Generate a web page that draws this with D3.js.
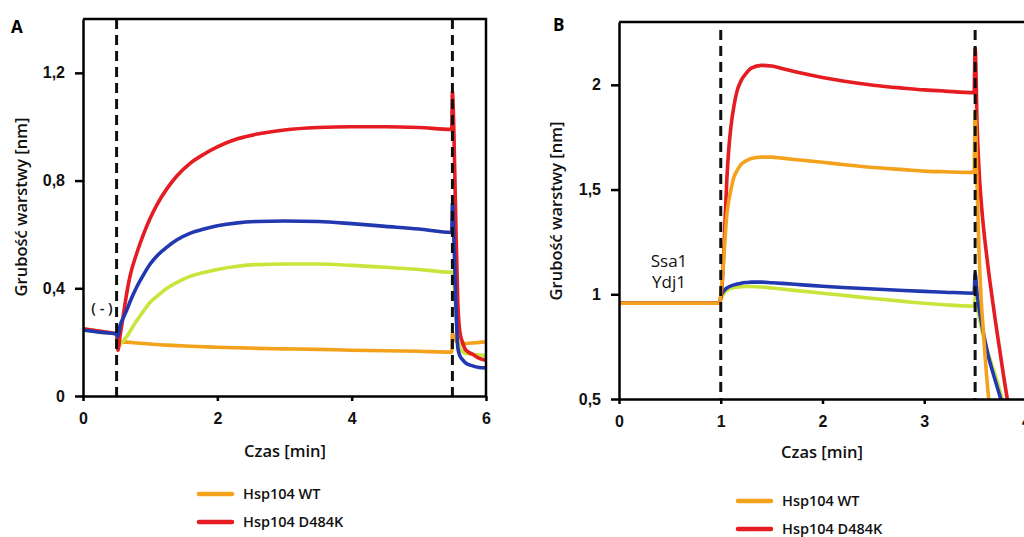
<!DOCTYPE html>
<html>
<head>
<meta charset="utf-8">
<script src="https://cdn.jsdelivr.net/npm/d3@7"></script>
<style>
  body { margin: 0; background: #fff; }
  svg { display: block; font-family: "Open Sans", Lato, sans-serif; }
  .tick text { font-size: 16px; font-weight: 600; fill: #111; }
</style>
</head>
<body>
<svg class="chart" width="1024" height="537"></svg>
<script>
// series colours, legend names
const seriesColors = { wt: "#f4a11c", d484k: "#e51c22", blue: "#2138b0", green: "#c9e43a" }
const legendNames = ["Hsp104 WT", "Hsp104 D484K"]

// ---- panel A data (time in min, thickness in nm)
const timeA = [0, 0.25, 0.5, 0.52, 0.55, 0.6, 0.65, 0.7, 0.8, 0.9, 1.0, 1.1, 1.25, 1.4, 1.6, 1.8, 2.0, 2.3, 2.6, 3.0, 3.5, 4.0, 4.5, 5.0, 5.49, 5.5, 5.52, 5.55, 5.58, 5.61, 5.65, 5.7, 5.8, 5.9, 6.0]
const wtA    = [0.25, 0.24, 0.23, 0.18, 0.2, 0.2, 0.2, 0.199, 0.197, 0.195, 0.193, 0.191, 0.189, 0.187, 0.185, 0.183, 0.181, 0.179, 0.177, 0.175, 0.173, 0.17, 0.168, 0.166, 0.163, 0.237, 0.22, 0.205, 0.198, 0.195, 0.194, 0.195, 0.197, 0.199, 0.201]
const d484kA = [0.25, 0.24, 0.23, 0.17, 0.22, 0.3, 0.38, 0.445, 0.53, 0.6, 0.66, 0.71, 0.77, 0.818, 0.865, 0.898, 0.925, 0.955, 0.973, 0.988, 0.997, 1.0, 1.0, 0.997, 0.99, 1.13, 1.0, 0.65, 0.35, 0.24, 0.2, 0.17, 0.155, 0.14, 0.133]
const blueA  = [0.245, 0.237, 0.23, 0.22, 0.26, 0.29, 0.318, 0.35, 0.405, 0.45, 0.49, 0.52, 0.553, 0.58, 0.605, 0.62, 0.632, 0.643, 0.648, 0.65, 0.648, 0.64, 0.63, 0.62, 0.607, 0.715, 0.6, 0.35, 0.18, 0.15, 0.135, 0.122, 0.112, 0.106, 0.104]
const greenA = [0.245, 0.237, 0.23, 0.18, 0.19, 0.205, 0.22, 0.24, 0.28, 0.315, 0.348, 0.37, 0.4, 0.422, 0.445, 0.459, 0.47, 0.482, 0.488, 0.49, 0.49, 0.485, 0.478, 0.47, 0.46, 0.46, 0.42, 0.32, 0.22, 0.18, 0.165, 0.158, 0.155, 0.152, 0.15]
const xTicksA = [0, 2, 4, 6]
const yTicksA = [0, 0.4, 0.8, 1.2]
const yTickLabelsA = ["0", "0,4", "0,8", "1,2"]
const eventsA = [0.5, 5.5]

// ---- panel B data
const timeB = [0, 0.5, 0.99, 1.0, 1.02, 1.04, 1.06, 1.08, 1.1, 1.13, 1.16, 1.2, 1.25, 1.3, 1.4, 1.5, 1.6, 1.8, 2.0, 2.2, 2.5, 2.8, 3.0, 3.2, 3.49, 3.5, 3.52, 3.54, 3.56, 3.58, 3.6, 3.62, 3.64, 3.66, 3.7, 3.74, 3.78, 3.82, 3.86]
const wtB    = [0.957, 0.957, 0.957, 1.0, 1.1, 1.25, 1.38, 1.45, 1.5, 1.56, 1.59, 1.62, 1.637, 1.648, 1.655, 1.655, 1.65, 1.64, 1.63, 1.62, 1.605, 1.595, 1.588, 1.585, 1.582, 1.876, 1.5, 1.18, 0.97, 0.83, 0.69, 0.57, 0.47, 0.39, 0.28, 0.18, 0.08, 0.0, -0.1]
const d484kB = [0.957, 0.957, 0.957, 0.98, 1.1, 1.32, 1.55, 1.7, 1.8, 1.9, 1.97, 2.02, 2.055, 2.08, 2.093, 2.09, 2.078, 2.055, 2.035, 2.018, 1.998, 1.984, 1.976, 1.97, 1.963, 2.176, 1.8, 1.58, 1.44, 1.33, 1.24, 1.16, 1.08, 1.01, 0.87, 0.74, 0.61, 0.49, 0.39]
const blueB  = [0.957, 0.957, 0.957, 0.99, 1.01, 1.022, 1.03, 1.036, 1.04, 1.045, 1.049, 1.053, 1.056, 1.058, 1.058, 1.055, 1.052, 1.045, 1.038, 1.032, 1.025, 1.018, 1.014, 1.01, 1.005, 1.1, 1.0, 0.93, 0.87, 0.82, 0.77, 0.725, 0.685, 0.65, 0.585, 0.52, 0.45, 0.38, 0.32]
const greenB = [0.957, 0.957, 0.957, 0.975, 0.995, 1.01, 1.018, 1.024, 1.028, 1.032, 1.034, 1.036, 1.037, 1.037, 1.035, 1.03, 1.025, 1.015, 1.005, 0.995, 0.98, 0.966, 0.957, 0.95, 0.943, 0.986, 0.94, 0.89, 0.845, 0.8, 0.765, 0.73, 0.7, 0.67, 0.61, 0.545, 0.475, 0.4, 0.33]
const xTicksB = [0, 1, 2, 3, 4]
const yTicksB = [0.5, 1, 1.5, 2]
const yTickLabelsB = ["0,5", "1", "1,5", "2"]
const eventsB = [1, 3.5]

const svg = d3.select("svg.chart")

// one function draws a whole panel
const drawPanel = function(p) {
    const scaleX = d3.scaleLinear().domain(p.xDomain).range([p.left, p.right])
    const scaleY = d3.scaleLinear().domain(p.yDomain).range([p.bottom, p.top])

    const clipId = "clip-" + p.letter
    svg.append("clipPath").attr("id", clipId)
        .append("rect")
        .attr("x", p.left)
        .attr("y", p.top)
        .attr("width", p.right - p.left)
        .attr("height", p.bottom - p.top)

    // curves
    const line = d3.line()
        .x(d => scaleX(d[0]))
        .y(d => scaleY(d[1]))
        .curve(d3.curveMonotoneX)

    const plot = svg.append("g").attr("clip-path", `url(#${clipId})`)
    p.series.forEach(s => {
        plot.append("path")
            .datum(p.time.map((t, i) => [t, s.values[i]]))
            .attr("d", line)
            .attr("fill", "none")
            .attr("stroke", s.color)
            .attr("stroke-width", 3.6)
            .attr("stroke-linejoin", "round")
    })

    // dashed event lines
    svg.append("g")
        .selectAll("line")
        .data(p.events)
        .enter()
        .append("line")
        .attr("x1", d => scaleX(d))
        .attr("x2", d => scaleX(d))
        .attr("y1", p.dashTop)
        .attr("y2", p.bottom)
        .attr("stroke", "#111")
        .attr("stroke-width", 3)
        .attr("stroke-dasharray", "10,6")

    // frame (top and right)
    svg.append("path")
        .attr("d", `M${p.left},${p.top}H${scaleX(p.xDomain[1])}V${p.bottom}`)
        .attr("fill", "none")
        .attr("stroke", "#000")
        .attr("stroke-width", 2.5)

    // axes
    const axisX = d3.axisBottom(scaleX)
        .tickValues(p.xTicks)
        .tickSizeInner(5)
        .tickSizeOuter(0)
        .tickPadding(12)
        .tickFormat(d => d)
    const axisXGroup = svg.append("g")
        .attr("transform", `translate(0, ${p.bottom})`)
        .call(axisX)
    axisXGroup.select(".domain").attr("stroke-width", 2.5)
    axisXGroup.selectAll(".tick line").attr("stroke-width", 2.5)

    const axisY = d3.axisLeft(scaleY)
        .tickValues(p.yTicks)
        .tickSizeInner(8)
        .tickSizeOuter(0)
        .tickPadding(10)
        .tickFormat((d, i) => p.yTickLabels[i])
    const axisYGroup = svg.append("g")
        .attr("transform", `translate(${p.left}, 0)`)
        .call(axisY)
    axisYGroup.select(".domain").attr("stroke-width", 2.5)
    axisYGroup.selectAll(".tick line").attr("stroke-width", 2.5)

    // titles
    svg.append("text")
        .attr("transform", `translate(${p.yTitleX}, ${p.yTitleY}) rotate(-90)`)
        .attr("text-anchor", "middle")
        .attr("font-size", "16.5px")
        .attr("font-weight", 600)
        .attr("fill", "#111")
        .text("Grubość warstwy [nm]")

    svg.append("text")
        .attr("x", p.xTitleX)
        .attr("y", p.xTitleY)
        .attr("text-anchor", "middle")
        .attr("font-size", "16.5px")
        .attr("font-weight", 600)
        .attr("fill", "#111")
        .text("Czas [min]")

    svg.append("text")
        .attr("x", p.letterX)
        .attr("y", p.letterY)
        .attr("font-size", "17px")
        .attr("font-weight", "bold")
        .text(p.letter)

    // legend (two visible entries)
    const legend = svg.append("g")
        .selectAll("g")
        .data(legendNames)
        .enter()
        .append("g")
        .attr("transform", (d, i) => `translate(${p.legendX}, ${p.legendY + i * 28})`)
    legend.append("line")
        .attr("x1", 0)
        .attr("x2", 33)
        .attr("stroke", (d, i) => i === 0 ? seriesColors.wt : seriesColors.d484k)
        .attr("stroke-width", 4.5)
        .attr("stroke-linecap", "round")
    legend.append("text")
        .attr("x", 44)
        .attr("y", 5)
        .attr("font-size", "14.5px")
        .attr("font-weight", 600)
        .attr("fill", "#111")
        .text(d => d)
}

drawPanel({
    letter: "A", letterX: 11, letterY: 33,
    left: 83, right: 486, top: 19, bottom: 396, dashTop: 19,
    xDomain: [0, 6], yDomain: [0, 1.4],
    xTicks: xTicksA, yTicks: yTicksA, yTickLabels: yTickLabelsA,
    events: eventsA, time: timeA,
    series: [
        { values: wtA, color: seriesColors.wt },
        { values: greenA, color: seriesColors.green },
        { values: d484kA, color: seriesColors.d484k },
        { values: blueA, color: seriesColors.blue }
    ],
    yTitleX: 27, yTitleY: 207, xTitleX: 285, xTitleY: 457,
    legendX: 199, legendY: 494
})

drawPanel({
    letter: "B", letterX: 553, letterY: 31,
    left: 619, right: 1026, top: 22, bottom: 399, dashTop: 30,
    xDomain: [0, 4], yDomain: [0.5, 2.3],
    xTicks: xTicksB, yTicks: yTicksB, yTickLabels: yTickLabelsB,
    events: eventsB, time: timeB,
    series: [
        { values: greenB, color: seriesColors.green },
        { values: blueB, color: seriesColors.blue },
        { values: d484kB, color: seriesColors.d484k },
        { values: wtB, color: seriesColors.wt }
    ],
    yTitleX: 562, yTitleY: 211, xTitleX: 822, xTitleY: 458,
    legendX: 738, legendY: 501
})

// annotations
svg.append("text")
    .attr("x", 102)
    .attr("y", 313)
    .attr("text-anchor", "middle")
    .attr("font-size", "14.5px")
    .attr("font-weight", 600)
    .attr("fill", "#111")
    .text("( - )")

svg.append("g")
    .selectAll("text")
    .data(["Ssa1", "Ydj1"])
    .enter()
    .append("text")
    .attr("x", 669)
    .attr("y", (d, i) => 267 + i * 21)
    .attr("text-anchor", "middle")
    .attr("font-size", "17px")
    .attr("fill", "#111")
    .text(d => d)
</script>
</body>
</html>
